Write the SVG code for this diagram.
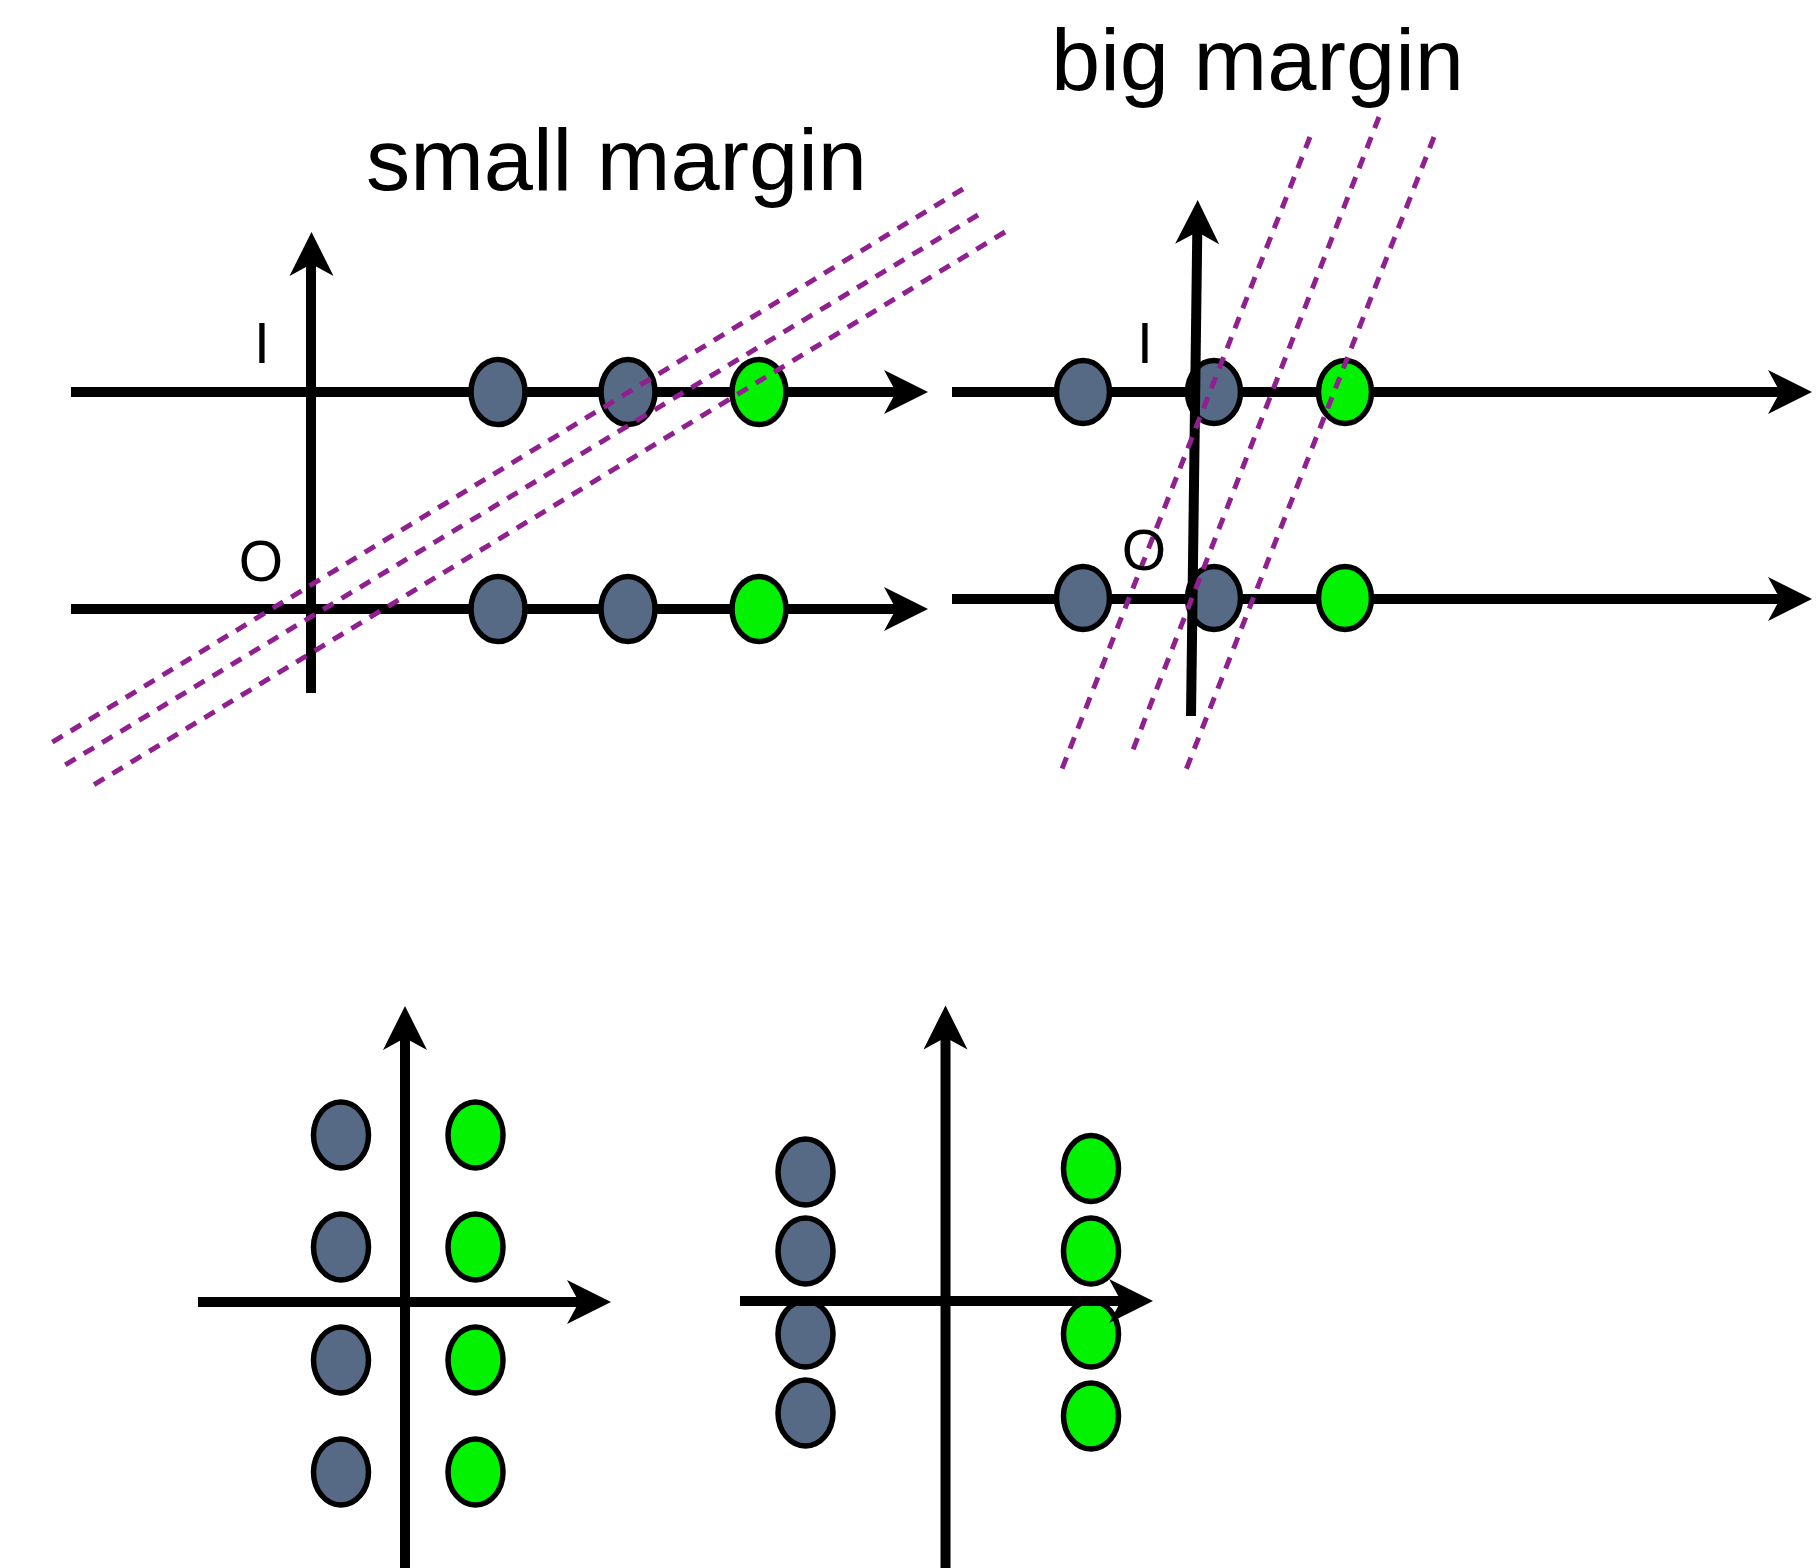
<svg xmlns="http://www.w3.org/2000/svg" xmlns:xlink="http://www.w3.org/1999/xlink" width="1819" height="1568" viewBox="0 0 1819 1568">
<style>
.axis{stroke:#000;stroke-width:10;fill:none;stroke-linecap:butt}
.dot{stroke:#000;stroke-width:5.5}
.neg{fill:#566a86}
.pos{fill:#02f202}
.sep{stroke:#90208f;stroke-width:5;stroke-dasharray:12 9.5;fill:none}
.title{font-family:"Liberation Sans",Arial,sans-serif;font-size:88px;fill:#000}
.cls{font-family:"Liberation Sans",Arial,sans-serif;font-size:57px;fill:#000;text-anchor:middle}
</style>
<defs>
<path id="ah" d="M0,0 L-44,-22 L-32,0 L-44,22 Z" fill="#000"/>
</defs>
<rect width="1819" height="1568" fill="#fff"/>

<g id="connectors-top-under">
<line class="axis" x1="71" y1="392" x2="900" y2="392"/>
<use xlink:href="#ah" transform="translate(928,392)"/>
<line class="axis" x1="71" y1="609" x2="900" y2="609"/>
<use xlink:href="#ah" transform="translate(928,609)"/>
<line class="axis" x1="311" y1="693" x2="311" y2="262"/>
<use xlink:href="#ah" transform="translate(311.5,232) rotate(-90)"/>
<line class="axis" x1="952" y1="392" x2="1784" y2="392"/>
<use xlink:href="#ah" transform="translate(1812,392)"/>
<line class="axis" x1="952" y1="599" x2="1784" y2="599"/>
<use xlink:href="#ah" transform="translate(1812,599)"/>
</g>

<g id="tl-n1"><ellipse class="dot neg" cx="498" cy="392" rx="27" ry="32.5"/></g>
<g id="tl-n2"><ellipse class="dot neg" cx="628" cy="392" rx="27" ry="32.5"/></g>
<g id="tl-p1"><ellipse class="dot pos" cx="759" cy="392" rx="27" ry="32.5"/></g>
<g id="tl-n3"><ellipse class="dot neg" cx="498" cy="609" rx="27" ry="32.5"/></g>
<g id="tl-n4"><ellipse class="dot neg" cx="628" cy="609" rx="27" ry="32.5"/></g>
<g id="tl-p2"><ellipse class="dot pos" cx="759" cy="609" rx="27" ry="32.5"/></g>

<g id="tr-n1"><ellipse class="dot neg" cx="1083" cy="392" rx="26.5" ry="31.5"/></g>
<g id="tr-n2"><ellipse class="dot neg" cx="1214" cy="392" rx="26.5" ry="31.5"/></g>
<g id="tr-p1"><ellipse class="dot pos" cx="1345" cy="392" rx="26.5" ry="31.5"/></g>
<g id="tr-n3"><ellipse class="dot neg" cx="1083" cy="598" rx="26.5" ry="31.5"/></g>
<g id="tr-n4"><ellipse class="dot neg" cx="1214" cy="598" rx="26.5" ry="31.5"/></g>
<g id="tr-p2"><ellipse class="dot pos" cx="1345" cy="598" rx="26.5" ry="31.5"/></g>

<g id="connectors-top-over">
<line class="axis" x1="1191" y1="716" x2="1197.3" y2="230"/>
<use xlink:href="#ah" transform="translate(1197.7,200) rotate(-89.26)"/>
</g>

<g id="separators">
<line class="sep" x1="963" y1="189" x2="46" y2="746"/>
<line class="sep" x1="978" y1="215" x2="60" y2="768"/>
<line class="sep" x1="1005" y1="232" x2="87" y2="789"/>
<line class="sep" x1="1310" y1="137" x2="1060" y2="774"/>
<line class="sep" x1="1379" y1="117" x2="1131" y2="755"/>
<line class="sep" x1="1434" y1="137" x2="1184" y2="775"/>
</g>

<g id="labels">
<text class="title" x="366" y="190" textLength="501" lengthAdjust="spacingAndGlyphs">small margin</text>
<text class="title" x="1051" y="90" textLength="413" lengthAdjust="spacingAndGlyphs">big margin</text>
<text class="cls" x="262" y="363">I</text>
<text class="cls" x="261" y="581">O</text>
<text class="cls" x="1145" y="363">I</text>
<text class="cls" x="1144" y="570">O</text>
</g>

<g id="connectors-bl">
<line class="axis" x1="198" y1="1302" x2="583" y2="1302"/>
<use xlink:href="#ah" transform="translate(611,1302)"/>
<line class="axis" x1="405" y1="1568" x2="405" y2="1036"/>
<use xlink:href="#ah" transform="translate(405,1006) rotate(-90)"/>
</g>

<g id="bl-n1"><ellipse class="dot neg" cx="341" cy="1135" rx="27.5" ry="33"/></g>
<g id="bl-n2"><ellipse class="dot neg" cx="341" cy="1247" rx="27.5" ry="33"/></g>
<g id="bl-n3"><ellipse class="dot neg" cx="341" cy="1360" rx="27.5" ry="33"/></g>
<g id="bl-n4"><ellipse class="dot neg" cx="341" cy="1472" rx="27.5" ry="33"/></g>
<g id="bl-p1"><ellipse class="dot pos" cx="475.5" cy="1135" rx="27.5" ry="33"/></g>
<g id="bl-p2"><ellipse class="dot pos" cx="475.5" cy="1247" rx="27.5" ry="33"/></g>
<g id="bl-p3"><ellipse class="dot pos" cx="475.5" cy="1360" rx="27.5" ry="33"/></g>
<g id="bl-p4"><ellipse class="dot pos" cx="475.5" cy="1472" rx="27.5" ry="33"/></g>

<g id="br-n1"><ellipse class="dot neg" cx="805.5" cy="1172" rx="27.5" ry="33"/></g>
<g id="br-n2"><ellipse class="dot neg" cx="805.5" cy="1251" rx="27.5" ry="33"/></g>
<g id="br-n3"><ellipse class="dot neg" cx="805.5" cy="1334" rx="27.5" ry="33"/></g>
<g id="br-n4"><ellipse class="dot neg" cx="805.5" cy="1413" rx="27.5" ry="33"/></g>
<g id="br-p1"><ellipse class="dot pos" cx="1091" cy="1168.5" rx="27.5" ry="33"/></g>
<g id="br-p2"><ellipse class="dot pos" cx="1091" cy="1251" rx="27.5" ry="33"/></g>
<g id="br-p3"><ellipse class="dot pos" cx="1091" cy="1334" rx="27.5" ry="33"/></g>
<g id="br-p4"><ellipse class="dot pos" cx="1091" cy="1416" rx="27.5" ry="33"/></g>

<g id="connectors-br">
<line class="axis" x1="740" y1="1301" x2="1125" y2="1301"/>
<use xlink:href="#ah" transform="translate(1153,1301)"/>
<line class="axis" x1="945.5" y1="1568" x2="945.5" y2="1035"/>
<use xlink:href="#ah" transform="translate(945.5,1005.5) rotate(-90)"/>
</g>
</svg>
